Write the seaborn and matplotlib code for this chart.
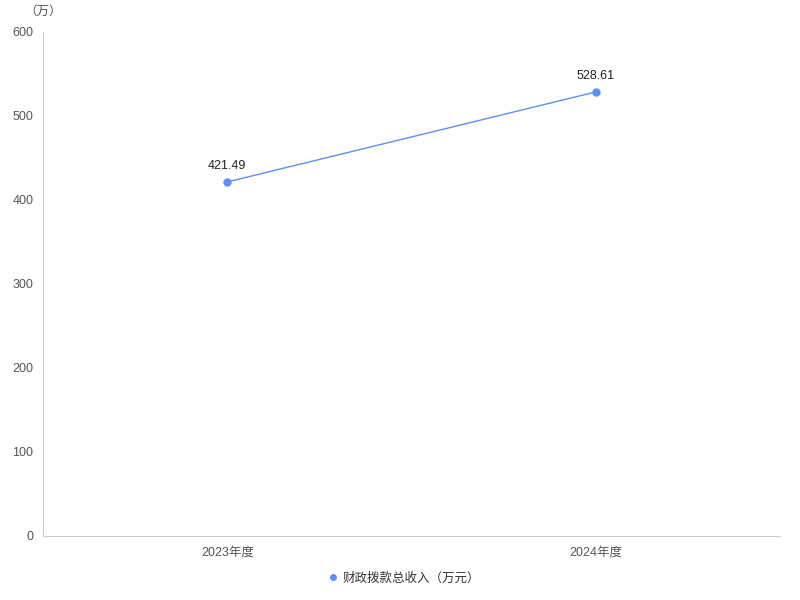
import matplotlib
matplotlib.use("Agg")
import matplotlib.pyplot as plt
import seaborn as sns
import pandas as pd

# data
years = ["2023年度", "2024年度"]
income = [421.49, 528.61]
series_name = "财政拨款总收入（万元）"

df = pd.DataFrame({"year": years, "value": income, "series": series_name})

sns.set_style("white")
plt.rcParams['font.family'] = ['Liberation Sans', 'Noto Sans CJK SC', 'DejaVu Sans']

line_color = "#5B8FF9"
axis_color = "#CCCCCC"
text_color = "#555555"

fig = plt.figure(figsize=(8, 6), dpi=100)
ax = fig.add_axes([43/800, 64/600, 737/800, 504/600])

sns.lineplot(data=df, x="year", y="value", hue="series", palette=[line_color],
             marker="o", markersize=6, markeredgewidth=0, linewidth=1, ax=ax, sort=False)

for i, v in enumerate(income):
    ax.text(i, v + 12, f"{v:.2f}", ha="center", va="bottom", fontsize=9, color="#222222")

ax.set_xlim(-0.5, 1.5)
ax.set_ylim(0, 600)
ax.set_yticks(range(0, 601, 100))
ax.set_xlabel("")
ax.set_ylabel("")

ax.spines['top'].set_visible(False)
ax.spines['right'].set_visible(False)
ax.spines['left'].set_color(axis_color)
ax.spines['bottom'].set_color(axis_color)
ax.tick_params(axis='y', length=4, color=axis_color, labelsize=9, labelcolor=text_color, pad=3)
ax.tick_params(axis='x', length=0, labelsize=9, labelcolor=text_color, pad=8)

ax.text(0, 1.028, "（万）", transform=ax.transAxes, ha="center", va="bottom", fontsize=9, color=text_color)

leg = ax.legend(loc="upper center", bbox_to_anchor=(0.49, -0.05), frameon=False,
                fontsize=9, handlelength=0.8, handletextpad=0.4)
for h in leg.legend_handles:
    h.set_linestyle("")
    h.set_markersize(5)
for t in leg.get_texts():
    t.set_color("#333333")

fig.savefig("out.png", dpi=100)
